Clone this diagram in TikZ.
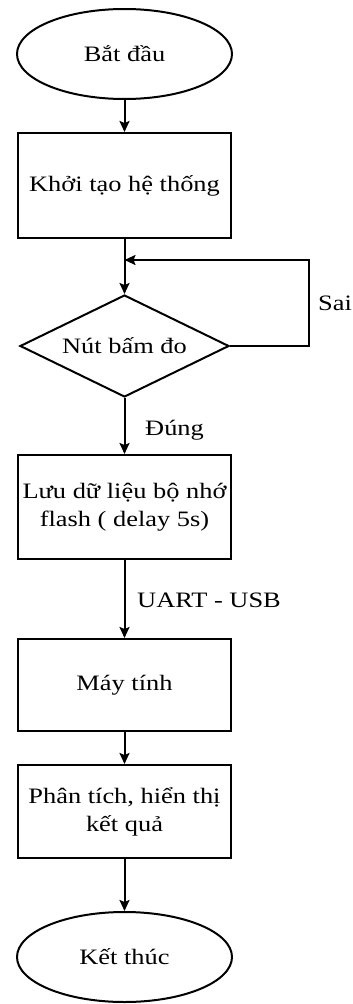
\documentclass[tikz,border=0pt]{standalone}
\usepackage{fontspec}
\setmainfont{Liberation Serif}[FakeStretch=1.2]
\usetikzlibrary{shapes.geometric,arrows.meta}

\tikzset{
  base/.style={draw=black, line width=2pt, inner sep=0pt, align=center,
               font=\fontsize{22}{28}\selectfont},
  terminal/.style={base, ellipse, minimum width=215pt, minimum height=90pt},
  process/.style={base, rectangle, minimum width=213pt},
  decision/.style={base, diamond, aspect=2.05, minimum width=209pt, minimum height=102pt},
  flow/.style={draw=black, line width=2pt,
               -{Stealth[length=11pt, width=10pt, inset=2pt]}},
  lbl/.style={font=\fontsize{22}{28}\selectfont, inner sep=0pt}
}

\begin{document}
\begin{tikzpicture}[x=1pt, y=-1pt]
  \useasboundingbox (0,0) rectangle (353,1004);

  % shapes of the flowchart, all on one vertical axis
  \node[terminal] (start) at (124.5,54) {Bắt đầu};
  \node[process, minimum height=105pt] (init) at (124.5,185.5) {Khởi tạo hệ thống};
  \node[decision] (check) at (124.5,346) {Nút bấm đo};
  \node[process, minimum height=104pt] (store) at (124.5,507) {Lưu dữ liệu bộ nhớ\\flash ( delay 5s)};
  \node[process, minimum height=92pt] (pc) at (124.5,685) {Máy tính};
  \node[process, minimum height=93pt] (show) at (124.5,811.5) {Phân tích, hiển thị\\kết quả};
  \node[terminal] (stop) at (124.5,957) {Kết thúc};

  % point where the retry loop joins the main line
  \coordinate (join) at (124.5,260);
  \coordinate (loopcorner) at (309,260);

  % connectors
  \draw[flow] (start) -- (init);
  \draw[flow] (init) -- (check);
  \draw[flow] (check.east) -| (loopcorner) -- (join);
  \draw[flow] (check) -- (store);
  \draw[flow] (store) -- (pc);
  \draw[flow] (pc) -- (show);
  \draw[flow] (show) -- (stop);

  % branch and link labels
  \node[lbl, anchor=west] (sai) at (318,303) {Sai};
  \node[lbl, anchor=west] (dung) at (145,430) {Đúng};
  \node[lbl, anchor=west] (uart) at (137,600) {UART - USB};
\end{tikzpicture}
\end{document}
